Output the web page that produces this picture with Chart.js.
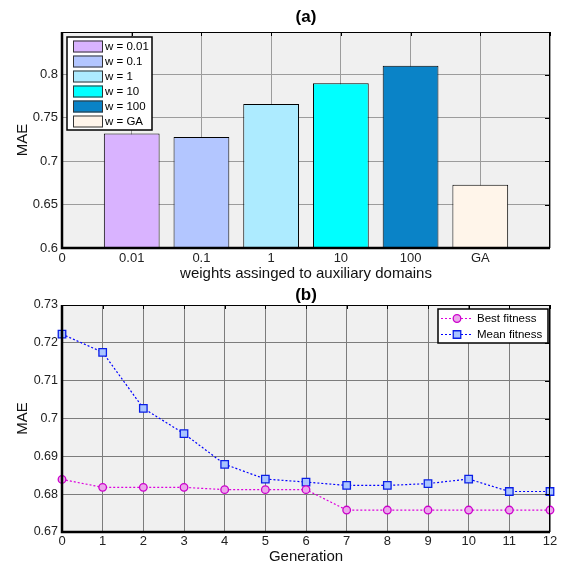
<!DOCTYPE html>
<html>
<head>
<meta charset="utf-8">
<script src="https://cdn.jsdelivr.net/npm/chart.js@4"></script>
<style>
  body { margin: 0; background: #fff; }
  canvas { display: block; }
</style>
</head>
<body>
<canvas id="bar-chart" width="562" height="283"></canvas>
<canvas id="line-chart" width="562" height="283"></canvas>
<script>
// --- data ---
const barLabels = ['w = 0.01', 'w = 0.1', 'w = 1', 'w = 10', 'w = 100', 'w = GA'];
const barTicks = ['0', '0.01', '0.1', '1', '10', '100', 'GA'];
const barValues = [0.732, 0.728, 0.766, 0.790, 0.810, 0.673];
const barColors = ['#D9B3FF', '#B3C6FF', '#ADEBFF', '#00FFFF', '#0A83C7', '#FFF5EA'];

const generations = [0, 1, 2, 3, 4, 5, 6, 7, 8, 9, 10, 11, 12];
const bestFitness = [0.6839, 0.6818, 0.6818, 0.6818, 0.6812, 0.6812, 0.6812, 0.6758, 0.6758, 0.6758, 0.6758, 0.6758, 0.6758];
const meanFitness = [0.7223, 0.7175, 0.7027, 0.6960, 0.6879, 0.6840, 0.6832, 0.6823, 0.6823, 0.6828, 0.6840, 0.6807, 0.6807];

const FONT = "'Liberation Sans', Arial, sans-serif";

// --- shared plugins ---
// grey plot background, white canvas
const plotBg = {
  id: 'plotBg',
  beforeDraw(chart) {
    const { ctx, chartArea: a } = chart;
    ctx.save();
    ctx.fillStyle = '#fff';
    ctx.fillRect(0, 0, chart.width, chart.height);
    ctx.fillStyle = '#F0F0F0';
    ctx.fillRect(a.left, a.top, a.right - a.left, a.bottom - a.top);
    ctx.restore();
  }
};

// matlab-like box with inward ticks on top and right
const frame = {
  id: 'frame',
  afterDatasetsDraw(chart) {
    const { ctx, chartArea: a, scales } = chart;
    ctx.save();
    ctx.strokeStyle = '#000';
    ctx.lineWidth = 1;
    ctx.beginPath();
    ctx.moveTo(a.left, a.top + 0.5); ctx.lineTo(a.right, a.top + 0.5);
    ctx.moveTo(a.right - 0.5, a.top); ctx.lineTo(a.right - 0.5, a.bottom);
    scales.x.ticks.forEach(t => {
      const px = Math.round(scales.x.getPixelForValue(t.value)) + 0.5;
      ctx.moveTo(px, a.top); ctx.lineTo(px, a.top + 4);
    });
    scales.y.ticks.forEach(t => {
      const py = Math.round(scales.y.getPixelForValue(t.value)) + 0.5;
      ctx.moveTo(a.right, py); ctx.lineTo(a.right - 5, py);
    });
    ctx.stroke();
    ctx.lineWidth = 2.5;
    ctx.beginPath();
    ctx.moveTo(a.left, a.top); ctx.lineTo(a.left, a.bottom); ctx.lineTo(a.right, a.bottom);
    ctx.stroke();
    ctx.restore();
  }
};

// bold "(a)" / "(b)" centred over the plot area
const panelTitle = {
  id: 'panelTitle',
  afterDraw(chart, args, opts) {
    const { ctx, chartArea: a } = chart;
    ctx.save();
    ctx.font = 'bold 17px ' + FONT;
    ctx.fillStyle = '#000';
    ctx.textAlign = 'center';
    ctx.textBaseline = 'middle';
    ctx.fillText(opts.text, (a.left + a.right) / 2, opts.y);
    ctx.restore();
  }
};

function yLabel(v) {
  return Number(v.toFixed(2)).toString();
}

// --- (a) bar chart ---
const barLegend = {
  id: 'barLegend',
  afterDraw(chart) {
    const { ctx, chartArea: a } = chart;
    const x0 = a.left + 5, y0 = a.top + 5, w = 85, h = 93;
    ctx.save();
    ctx.fillStyle = '#fff';
    ctx.fillRect(x0, y0, w, h);
    ctx.strokeStyle = '#000';
    ctx.lineWidth = 1.5;
    ctx.strokeRect(x0, y0, w, h);
    ctx.font = '11.5px ' + FONT;
    ctx.textBaseline = 'middle';
    chart.data.datasets.forEach((ds, i) => {
      const cy = y0 + 9.5 + i * 15;
      ctx.fillStyle = ds.backgroundColor;
      ctx.fillRect(x0 + 6, cy - 6, 30, 12);
      ctx.strokeStyle = '#333';
      ctx.lineWidth = 1;
      ctx.strokeRect(x0 + 6.5, cy - 5.5, 29, 11);
      ctx.fillStyle = '#000';
      ctx.fillText(ds.label, x0 + 38, cy + 0.5);
    });
    ctx.restore();
  }
};

new Chart(document.getElementById('bar-chart'), {
  type: 'bar',
  data: {
    datasets: barLabels.map((label, i) => ({
      label: label,
      data: [{ x: i + 1, y: barValues[i] }],
      backgroundColor: barColors[i],
      borderColor: '#000',
      borderWidth: 1,
      grouped: false,
      barPercentage: 0.8,
      categoryPercentage: 1
    }))
  },
  options: {
    responsive: false,
    animation: false,
    layout: { padding: { left: 0, right: 12, top: 32, bottom: 0 } },
    plugins: {
      legend: { display: false },
      tooltip: { enabled: false },
      panelTitle: { text: '(a)', y: 17.5 }
    },
    scales: {
      x: {
        type: 'linear',
        min: 0,
        max: 7,
        offset: false,
        afterFit: s => { s.height = 35; },
        border: { display: false },
        grid: { color: '#9c9c9c', drawTicks: false, offset: false },
        ticks: {
          stepSize: 1,
          autoSkip: false,
          maxRotation: 0,
          padding: 3,
          color: '#222',
          font: { family: FONT, size: 13 },
          callback: v => barTicks[v] ?? ''
        },
        title: {
          display: true,
          text: 'weights assinged to auxiliary domains',
          color: '#111',
          font: { family: FONT, size: 15 },
          padding: { top: 0, bottom: 0 }
        }
      },
      y: {
        min: 0.6,
        max: 0.849,
        afterFit: s => { s.width = 62; },
        border: { display: false },
        grid: { color: '#9c9c9c', drawTicks: false },
        ticks: {
          stepSize: 0.05,
          padding: 4,
          color: '#222',
          font: { family: FONT, size: 13 },
          callback: v => (Math.abs(v * 20 - Math.round(v * 20)) < 1e-6 ? yLabel(v) : '')
        },
        title: {
          display: true,
          text: 'MAE',
          color: '#111',
          font: { family: FONT, size: 15 },
          padding: { top: 14, bottom: 0 }
        }
      }
    }
  },
  plugins: [plotBg, frame, barLegend, panelTitle]
});

// --- (b) line chart ---
const lineLegend = {
  id: 'lineLegend',
  afterDraw(chart) {
    const { ctx, chartArea: a } = chart;
    const w = 110, h = 34;
    const x0 = a.right - 2 - w, y0 = a.top + 4;
    ctx.save();
    ctx.fillStyle = '#fff';
    ctx.fillRect(x0, y0, w, h);
    ctx.strokeStyle = '#000';
    ctx.lineWidth = 1.5;
    ctx.strokeRect(x0, y0, w, h);
    ctx.font = '11.5px ' + FONT;
    ctx.textBaseline = 'middle';
    chart.data.datasets.forEach((ds, i) => {
      const cy = y0 + 9.5 + i * 16;
      ctx.strokeStyle = ds.borderColor;
      ctx.lineWidth = ds.borderWidth;
      ctx.setLineDash(ds.borderDash);
      ctx.beginPath();
      ctx.moveTo(x0 + 3, cy); ctx.lineTo(x0 + 33, cy);
      ctx.stroke();
      ctx.setLineDash([]);
      ctx.fillStyle = ds.pointBackgroundColor;
      ctx.strokeStyle = ds.pointBorderColor;
      ctx.lineWidth = ds.pointBorderWidth;
      Chart.helpers.drawPoint(ctx, { pointStyle: ds.pointStyle, radius: ds.pointRadius, borderWidth: ds.pointBorderWidth }, x0 + 19, cy);
      ctx.fillStyle = '#000';
      ctx.fillText(ds.label, x0 + 39, cy + 0.5);
    });
    ctx.restore();
  }
};

new Chart(document.getElementById('line-chart'), {
  type: 'line',
  data: {
    datasets: [
      {
        label: 'Best fitness',
        data: generations.map((g, i) => ({ x: g, y: bestFitness[i] })),
        borderColor: '#DD00DD',
        borderWidth: 1.2,
        borderDash: [2, 2],
        pointStyle: 'circle',
        pointRadius: 3.8,
        pointBorderWidth: 1.3,
        pointBackgroundColor: '#EBA6EB',
        pointBorderColor: '#CC00CC',
        clip: false
      },
      {
        label: 'Mean fitness',
        data: generations.map((g, i) => ({ x: g, y: meanFitness[i] })),
        borderColor: '#0000FF',
        borderWidth: 1.2,
        borderDash: [2, 2],
        pointStyle: 'rect',
        pointRadius: 5.3,
        pointBorderWidth: 1.3,
        pointBackgroundColor: '#A9C4FF',
        pointBorderColor: '#0A1EE6',
        clip: false
      }
    ]
  },
  options: {
    responsive: false,
    animation: false,
    layout: { padding: { left: 0, right: 12, top: 22, bottom: 0 } },
    plugins: {
      legend: { display: false },
      tooltip: { enabled: false },
      panelTitle: { text: '(b)', y: 12.5 }
    },
    scales: {
      x: {
        type: 'linear',
        min: 0,
        max: 12,
        afterFit: s => { s.height = 34; },
        border: { display: false },
        grid: { color: '#7c7c7c', drawTicks: false },
        ticks: {
          stepSize: 1,
          autoSkip: false,
          maxRotation: 0,
          padding: 2,
          color: '#222',
          font: { family: FONT, size: 13 }
        },
        title: {
          display: true,
          text: 'Generation',
          color: '#111',
          font: { family: FONT, size: 15 },
          padding: { top: 0, bottom: 0 }
        }
      },
      y: {
        min: 0.67,
        max: 0.73,
        afterFit: s => { s.width = 62; },
        border: { display: false },
        grid: { color: '#7c7c7c', drawTicks: false },
        ticks: {
          stepSize: 0.01,
          padding: 4,
          color: '#222',
          font: { family: FONT, size: 12.5 },
          callback: v => yLabel(v)
        },
        title: {
          display: true,
          text: 'MAE',
          color: '#111',
          font: { family: FONT, size: 15 },
          padding: { top: 14, bottom: 0 }
        }
      }
    }
  },
  plugins: [plotBg, frame, lineLegend, panelTitle]
});
</script>
</body>
</html>
